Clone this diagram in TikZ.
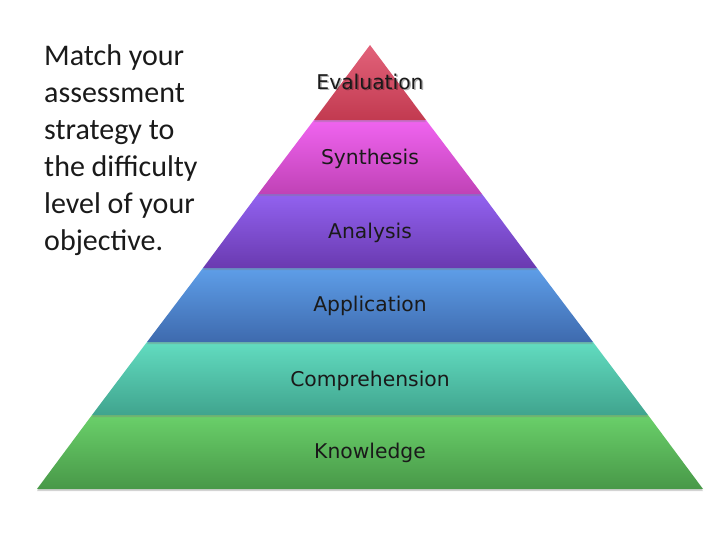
\documentclass[tikz,border=0pt]{standalone}
\usepackage{fontspec}
\setmainfont{Carlito}
\newfontfamily\lblfont{DejaVu Sans}
\usetikzlibrary{shadows}
\definecolor{evT}{HTML}{E2627A}\definecolor{evB}{HTML}{C23A50}
\definecolor{syT}{HTML}{F064F0}\definecolor{syB}{HTML}{C042B6}
\definecolor{anT}{HTML}{9262F0}\definecolor{anB}{HTML}{6A3AB0}
\definecolor{apT}{HTML}{5E9EE8}\definecolor{apB}{HTML}{3E6AAE}
\definecolor{coT}{HTML}{62DCC0}\definecolor{coB}{HTML}{40A48E}
\definecolor{knT}{HTML}{6AD06A}\definecolor{knB}{HTML}{489848}
\definecolor{txt}{HTML}{1A1A1A}
\tikzset{
  layer/.style={drop shadow={opacity=0.35,shadow xshift=0pt,shadow yshift=-2pt}},
  lbl/.style={font=\lblfont\fontsize{20.3}{24}\selectfont, text=txt, inner sep=0pt, anchor=base},
}
\begin{document}
\begin{tikzpicture}[x=1pt,y=-1pt]
\useasboundingbox (0,0) rectangle (728,546);
% layers: left x = 370 - 0.75*(y-45)
\shade[layer, top color=knT, bottom color=knB] (92,415) -- (648,415) -- (703,489) -- (37,489) -- cycle;
\shade[layer, top color=coT, bottom color=coB] (147,342) -- (593,342) -- (648,415) -- (92,415) -- cycle;
\shade[layer, top color=apT, bottom color=apB] (203,268) -- (537,268) -- (593,342) -- (147,342) -- cycle;
\shade[layer, top color=anT, bottom color=anB] (258,194) -- (482,194) -- (537,268) -- (203,268) -- cycle;
\shade[layer, top color=syT, bottom color=syB] (314,120) -- (426,120) -- (482,194) -- (258,194) -- cycle;
\shade[layer, top color=evT, bottom color=evB] (370,45) -- (426,120) -- (314,120) -- cycle;
\node[lbl, text=black, opacity=0.3] (evs) at (371.5,90.5) {Evaluation};
\node[lbl] (ev) at (370,89) {Evaluation};
\node[lbl] (sy) at (370,164) {Synthesis};
\node[lbl] (an) at (370,238) {Analysis};
\node[lbl] (ap) at (370,311) {Application};
\node[lbl] (co) at (370,386) {Comprehension};
\node[lbl] (kn) at (370,458) {Knowledge};
\node[anchor=base west, inner sep=0pt, text=txt, align=left,
      font=\fontsize{30}{37}\selectfont] (intro) at (44,250)
  {Match your\\assessment\\strategy to\\the difficulty\\level of your\\objective.};
\end{tikzpicture}
\end{document}
